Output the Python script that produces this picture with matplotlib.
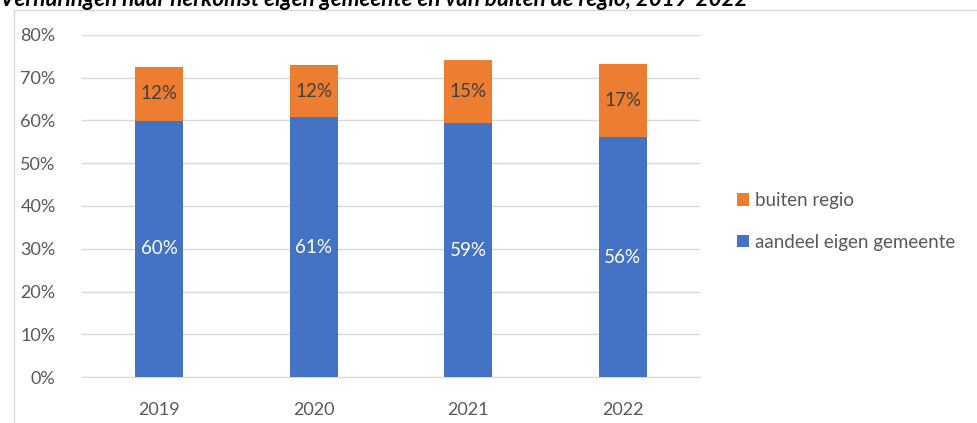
import matplotlib.pyplot as plt
from matplotlib.patches import Rectangle

years = ['2019', '2020', '2021', '2022']
eigen = [59.9, 60.8, 59.4, 56.1]
buiten = [12.6, 12.2, 14.8, 17.1]
eigen_labels = ['60%', '61%', '59%', '56%']
buiten_labels = ['12%', '12%', '15%', '17%']
title = 'Verhuringen naar herkomst eigen gemeente en van buiten de regio, 2019-2022'

blue = '#4472C4'
orange = '#ED7D31'
grey = '#595959'

plt.rcParams['font.family'] = ['Lato', 'DejaVu Sans']

fig = plt.figure(figsize=(9.77, 4.23), dpi=100)
# outer chart border
fig.patches.append(Rectangle((14 / 977, -0.1), 1.2, (423 - 10) / 423 + 0.1,
                             transform=fig.transFigure, fill=False,
                             edgecolor='#D9D9D9', linewidth=1))
# title sits partly above the top edge, as in the source
t = fig.text(0.0, 1.0, title, fontsize=13, fontweight='bold', fontstyle='italic',
             va='center', ha='left', color='#000000')
fig.canvas.draw()
w = t.get_window_extent().width
t.set_fontsize(13 * 748 / w)

ax = fig.add_axes([82 / 977, (423 - 377) / 423, (700 - 82) / 977, (377 - 35) / 423])
x = range(len(years))
b1 = ax.bar(x, eigen, width=0.31, color=blue, label='aandeel eigen gemeente', zorder=3)
b2 = ax.bar(x, buiten, width=0.31, bottom=eigen, color=orange, label='buiten regio', zorder=3)

for i in x:
    ax.text(i, eigen[i] / 2, eigen_labels[i], ha='center', va='center', color='white', fontsize=13.5)
    ax.text(i, eigen[i] + buiten[i] / 2, buiten_labels[i], ha='center', va='center',
            color='#404040', fontsize=13.5)

ax.set_xlim(-0.5, 3.5)
ax.set_ylim(0, 80)
ax.set_yticks(range(0, 81, 10))
ax.set_yticklabels([f'{v}%' for v in range(0, 81, 10)])
ax.set_xticks(list(x))
ax.set_xticklabels(years)
ax.grid(axis='y', color='#D9D9D9', linewidth=1, zorder=0)
for s in ['top', 'right', 'left']:
    ax.spines[s].set_visible(False)
ax.spines['bottom'].set_color('#D9D9D9')
ax.tick_params(axis='both', length=0, colors=grey, labelsize=13)
ax.tick_params(axis='y', pad=19)
ax.tick_params(axis='x', pad=18)

handles = [b2, b1]
ax.legend(handles, ['buiten regio', 'aandeel eigen gemeente'], loc='center left',
          bbox_to_anchor=(1.032, 0.455), frameon=False, fontsize=13.5, labelcolor=grey,
          handlelength=0.65, handleheight=0.65, handletextpad=0.35, labelspacing=1.3)

fig.savefig('out.png', dpi=100)
